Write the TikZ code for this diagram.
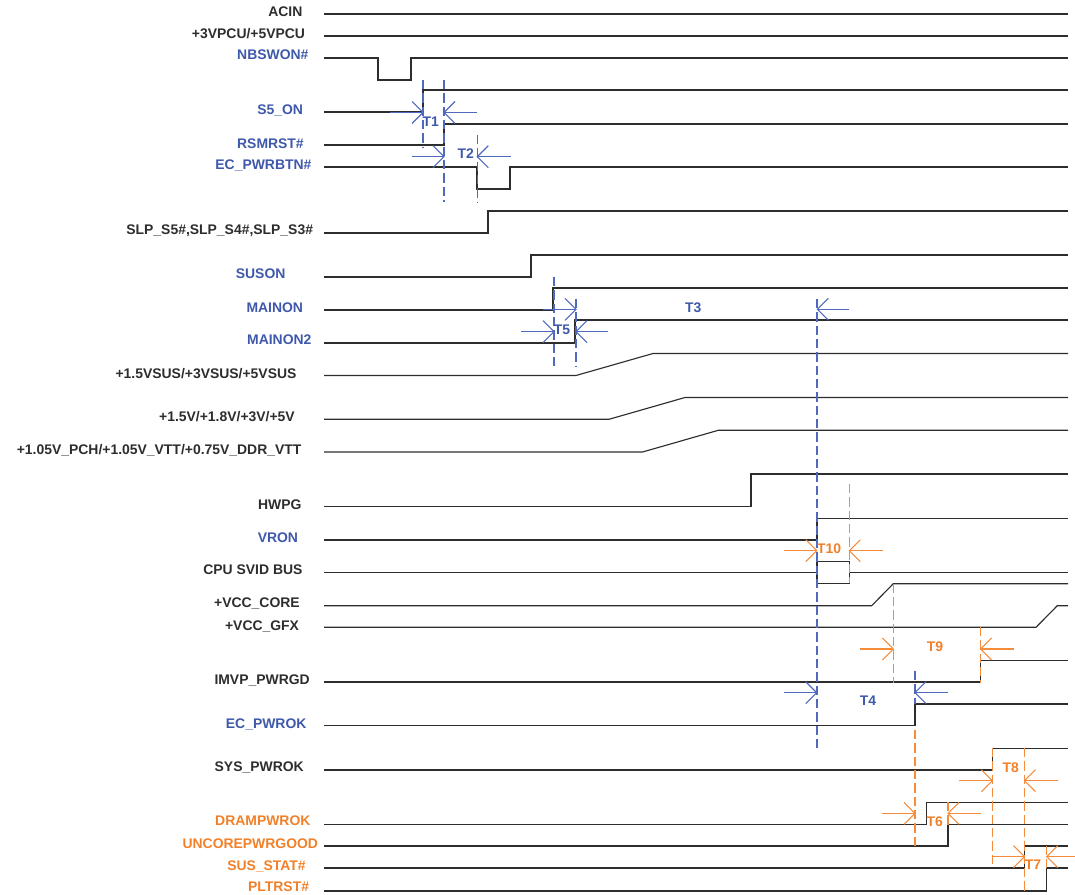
\documentclass[tikz,border=0pt]{standalone}
\usepackage{fontspec}
\setmainfont{Liberation Sans}
\definecolor{sigc}{RGB}{45,45,45}
\definecolor{tblue}{RGB}{62,88,170}
\definecolor{dblue}{RGB}{80,105,190}
\definecolor{torange}{RGB}{242,128,40}
\definecolor{dorange}{RGB}{245,140,60}
\newcommand{\lblfont}{\fontsize{10.45pt}{12pt}\selectfont\bfseries}
\tikzset{
  lab/.style={anchor=base east, inner sep=0pt, font=\lblfont, text=sigc},
  blab/.style={lab, text=tblue},
  olab/.style={lab, text=torange},
  tlab/.style={anchor=base, inner sep=0pt, font=\lblfont},
  sig/.style={draw=sigc, line width=0.85pt},
  bdash/.style={draw=dblue, line width=0.9pt, dash pattern=on 7pt off 3pt},
  odash/.style={draw=dorange, line width=0.9pt, dash pattern=on 7pt off 3pt},
  barr/.style={draw=dblue, line width=0.8pt},
  oarr/.style={draw=dorange, line width=0.8pt},
  pics/chevR/.style={code={\draw[#1] (-11,-11)--(0,0)--(-11,11);}},
  pics/chevL/.style={code={\draw[#1] (11,-11)--(0,0)--(11,11);}},
}
\begin{document}
\begin{tikzpicture}[x=0.75pt,y=-0.75pt]
\useasboundingbox (0,0) rectangle (1075,895);
% ---- labels ----
\node[lab]  (lacin)  at (302.7,16.1) {ACIN};
\node[lab]  (lpcu)   at (305.3,38.1) {+3VPCU/+5VPCU};
\node[blab] (lnbs)   at (308.7,59.8) {NBSWON\#};
\node[blab] (ls5)    at (303.3,114.8) {S5\_ON};
\node[blab] (lrsm)   at (304,148.1) {RSMRST\#};
\node[blab] (lpbt)   at (311.7,169.1) {EC\_PWRBTN\#};
\node[lab]  (lslp)   at (313.3,234.8) {SLP\_S5\#,SLP\_S4\#,SLP\_S3\#};
\node[blab] (lsus)   at (285.7,278.8) {SUSON};
\node[blab] (lmain)  at (303.3,312.1) {MAINON};
\node[blab] (lmain2) at (311.7,344.8) {MAINON2};
\node[lab]  (lvsus)  at (296.7,378.1) {+1.5VSUS/+3VSUS/+5VSUS};
\node[lab]  (lvmain) at (295,421.5) {+1.5V/+1.8V/+3V/+5V};
\node[lab]  (lvtt)   at (301.7,454.1) {+1.05V\_PCH/+1.05V\_VTT/+0.75V\_DDR\_VTT};
\node[lab]  (lhwpg)  at (301.7,509.1) {HWPG};
\node[blab] (lvron)  at (298.3,542.1) {VRON};
\node[lab]  (lsvid)  at (302.7,574.8) {CPU SVID BUS};
\node[lab]  (lcore)  at (300,607.1) {+VCC\_CORE};
\node[lab]  (lgfx)   at (299.3,630.1) {+VCC\_GFX};
\node[lab]  (limvp)  at (310,684.1) {IMVP\_PWRGD};
\node[blab] (lecok)  at (306.7,728.1) {EC\_PWROK};
\node[lab]  (lsysok) at (304,771.5) {SYS\_PWROK};
\node[olab] (ldram)  at (310.7,825.8) {DRAMPWROK};
\node[olab] (lunc)   at (318.3,848.8) {UNCOREPWRGOOD};
\node[olab] (lsst)   at (306,870.1) {SUS\_STAT\#};
\node[olab] (lplt)   at (309.3,891.5) {PLTRST\#};
% ---- waveforms ----
\draw[sig] (324,14)--(1068,14);
\draw[sig] (324,36)--(1068,36);
\draw[sig] (324,58)--(378,58)--(378,80)--(411,80)--(411,58)--(1068,58);
\draw[sig] (324,112)--(423,112)--(423,90)--(1068,90);
\draw[sig] (324,145)--(444,145)--(444,124)--(1068,124);
\draw[sig] (324,167)--(477,167)--(477,189)--(510,189)--(510,167)--(1068,167);
\draw[sig] (324,233)--(488,233)--(488,211)--(1068,211);
\draw[sig] (324,277)--(531,277)--(531,255)--(1068,255);
\draw[sig] (324,310)--(553,310)--(553,288)--(1068,288);
\draw[sig] (324,343)--(575,343)--(575,320)--(1068,320);
\draw[sig] (324,375.5)--(576,375.5)--(653,353.5)--(1068,353.5);
\draw[sig] (324,419.3)--(609,419.3)--(685,397.5)--(1068,397.5);
\draw[sig] (324,452)--(642.5,452)--(718.3,430.3)--(1068,430.3);
\draw[sig] (324,506.7)--(751,506.7)--(751,474)--(1068,474);
\draw[sig] (324,540)--(817,540)--(817,518.3)--(1068,518.3);
\draw[sig] (324,572.7)--(817,572.7);
\draw[sig] (817,561.7) rectangle (849.3,583.7);
\draw[sig] (849.3,572.7)--(1068,572.7);
\draw[sig] (324,605.7)--(871.7,605.7)--(893.3,583.7)--(1068,583.7);
\draw[sig] (324,627.3)--(1036,627.3)--(1057.3,605.7)--(1068,605.7);
\draw[sig] (324,682)--(980.7,682)--(980.7,660.3)--(1068,660.3);
\draw[sig] (324,725.7)--(915,725.7)--(915,704)--(1068,704);
\draw[sig] (324,770)--(992.3,770)--(992.3,748.3)--(1068,748.3);
\draw[sig] (324,824.7)--(926.7,824.7)--(926.7,802.3)--(1068,802.3);
\draw[sig] (324,846)--(948,846)--(948,824.7)--(1068,824.7);
\draw[sig] (324,868)--(1024.7,868)--(1024.7,846)--(1068,846);
\draw[sig] (324,891)--(1046.7,891)--(1046.7,868)--(1068,868);
% ---- dashed guides ----
\draw[bdash] (423,80)--(423,147);
\draw[bdash] (444,80)--(444,202);
\draw[bdash] (477.3,135)--(477.3,202);
\draw[bdash] (554,277)--(554,366);
\draw[bdash] (576,299)--(576,366);
\draw[bdash] (817,299)--(817,752);
\draw[bdash] (915,671)--(915,704);
\draw[odash] (849.3,484)--(849.3,583);
\draw[odash] (893.3,583.7)--(893.3,683);
\draw[odash] (980.7,627)--(980.7,683);
\draw[odash] (915,730)--(915,847);
\draw[odash] (948,802)--(948,825);
\draw[odash] (992.3,748)--(992.3,868);
\draw[odash] (1024.5,748)--(1024.5,892);
\draw[odash] (1046.7,846)--(1046.7,868);
% ---- arrows ----
\draw[barr] (390,112.5)--(423,112.5) pic {chevR=barr};
\draw[barr] (477,112.5)--(444,112.5) pic {chevL=barr};
\draw[barr] (411.5,156.7)--(444,156.7) pic {chevR=barr};
\draw[barr] (510.7,156.7)--(477.3,156.7) pic {chevL=barr};
\draw[barr] (543,309.3)--(576,309.3) pic {chevR=barr};
\draw[barr] (849,309.3)--(817.3,309.3) pic {chevL=barr};
\draw[barr] (520.7,331.7)--(554,331.7) pic {chevR=barr};
\draw[barr] (608,331.7)--(576,331.7) pic {chevL=barr};
\draw[barr] (784,692.7)--(816.7,692.7) pic {chevR=barr};
\draw[barr] (948.3,692.7)--(915,692.7) pic {chevL=barr};
\draw[oarr] (784,550.7)--(816.7,550.7) pic {chevR=oarr};
\draw[oarr] (882.7,550.7)--(849.3,550.7) pic {chevL=oarr};
\draw[oarr] (860,649)--(893.3,649) pic {chevR=oarr};
\draw[oarr] (1014,649)--(980.7,649) pic {chevL=oarr};
\draw[oarr] (882.3,813.3)--(915,813.3) pic {chevR=oarr};
\draw[oarr] (981,813.3)--(948,813.3) pic {chevL=oarr};
\draw[oarr] (959.3,780.7)--(992.3,780.7) pic {chevR=oarr};
\draw[oarr] (1057.7,780.7)--(1024.5,780.7) pic {chevL=oarr};
\draw[oarr] (992.3,856.7)--(1024.5,856.7) pic {chevR=oarr};
\draw[oarr] (1075,856.7)--(1046.7,856.7) pic {chevL=oarr};
% ---- timing labels ----
\node[tlab, text=tblue]   (t1)  at (430.7,126.1) {T1};
\node[tlab, text=tblue]   (t2)  at (465.8,159) {T2};
\node[tlab, text=tblue]   (t3)  at (693.3,312.1) {T3};
\node[tlab, text=tblue]   (t5)  at (562,334.8) {T5};
\node[tlab, text=tblue]   (t4)  at (868,705.8) {T4};
\node[tlab, text=torange] (t10) at (829,553.8) {T10};
\node[tlab, text=torange] (t9)  at (935,651.1) {T9};
\node[tlab, text=torange] (t8)  at (1010.8,772.1) {T8};
\node[tlab, text=torange] (t6)  at (934.7,826.1) {T6};
\node[tlab, text=torange] (t7)  at (1033,869.8) {T7};
\end{tikzpicture}
\end{document}
